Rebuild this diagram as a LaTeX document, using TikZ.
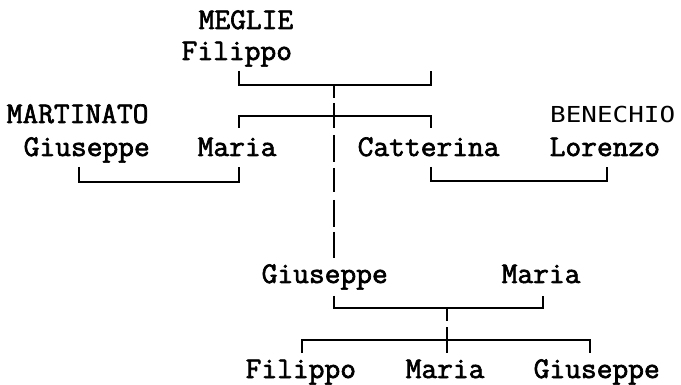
\documentclass[tikz,border=0pt]{standalone}
\usepackage{fontspec}
\newfontfamily\mono[FakeStretch=1.02,FakeBold=2.2]{Latin Modern Mono}
\newfontfamily\sansmono[FakeStretch=1.18]{DejaVu Sans Mono}
\begin{document}
\begin{tikzpicture}[x=1pt,y=-1pt,
  person/.style={anchor=base west,inner sep=0pt,font=\mono\fontsize{30}{32}\selectfont},
  sperson/.style={anchor=base west,inner sep=0pt,font=\sansmono\fontsize{22}{24}\selectfont},
  link/.style={line width=1.8pt,line cap=butt}]
\useasboundingbox[fill=white] (0,0) rectangle (681,385);
% people
\node[person] (meglie) at (198.5,29) {MEGLIE};
\node[person] (filippoA) at (181.5,60) {Filippo};
\node[person] (martinato) at (6.5,123) {MARTINATO};
\node[sperson] (benechio) at (550,123) {BENECHIO};
\node[person] (giuseppeA) at (23.5,156) {Giuseppe};
\node[person] (mariaA) at (197.5,156) {Maria};
\node[person] (catterina) at (357.5,156) {Catterina};
\node[person] (lorenzo) at (549.5,156) {Lorenzo};
\node[person] (giuseppeB) at (261.5,283) {Giuseppe};
\node[person] (mariaB) at (501.5,283) {Maria};
\node[person] (filippoC) at (245.5,378) {Filippo};
\node[person] (mariaC) at (405.5,378) {Maria};
\node[person] (giuseppeC) at (533.5,378) {Giuseppe};
% connector end points
\coordinate (fA) at (239,71);  \coordinate (cA) at (431,71);
\coordinate (mT) at (239,128); \coordinate (cT) at (431,128);
\coordinate (gB) at (79,167);  \coordinate (mB) at (239,167);
\coordinate (cB) at (431,167); \coordinate (lB) at (607,167);
\coordinate (gT) at (334,296); \coordinate (mbT) at (543,296);
\coordinate (fC) at (302,353); \coordinate (mC) at (447,353); \coordinate (gC) at (590,353);
% brackets
\draw[link] (fA) -- ++(0,14) -| (cA);
\draw[link] (mT) -- ++(0,-12) -| (cT);
\draw[link] (gB) -- ++(0,15) -| (mB);
\draw[link] (cB) -- ++(0,14) -| (lB);
\draw[link] (gT) -- ++(0,12) -| (mbT);
\draw[link] (fC) -- ++(0,-13) -| (gC);
% broken descent line from Filippo+Catterina to Giuseppe
\foreach \a/\b in {85/98,103/128,135/162,168/192,200/227,232/258}
  \draw[link] (334,\a) -- (334,\b);
% broken descent line from Giuseppe+Maria to children
\foreach \a/\b in {308/321,327/353}
  \draw[link] (447,\a) -- (447,\b);
\end{tikzpicture}
\end{document}
